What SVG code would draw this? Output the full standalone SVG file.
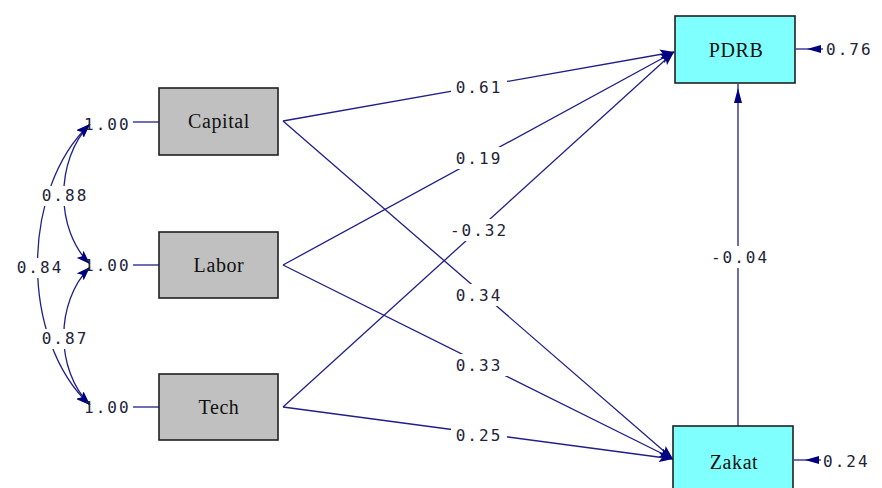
<svg xmlns="http://www.w3.org/2000/svg" width="882" height="488" viewBox="0 0 882 488">
<defs>
<marker id="ah" viewBox="0 0 14 10" refX="14" refY="5" markerWidth="14" markerHeight="10" markerUnits="userSpaceOnUse" orient="auto-start-reverse">
<path d="M0,0 L14,5 L0,10 L3,5 z" fill="#000080"/>
</marker>
<style>
.ln{fill:none;stroke:#1f1f8a;stroke-width:1.3}
.box{stroke:#202020;stroke-width:1.6}
.exo{fill:#c0c0c0}
.endo{fill:#80ffff}
.nt{font-family:"Liberation Serif","Times New Roman",serif;font-size:20px;fill:#111;text-anchor:middle;letter-spacing:0.6px}
.lb{font-family:"DejaVu Sans Mono","Liberation Mono",monospace;font-size:16px;fill:#222238;letter-spacing:2px}
.c{text-anchor:middle}
.bg{fill:#fff}
</style>
</defs>
<rect width="882" height="488" fill="#fff"/>
<g id="connectors">
<path class="ln" d="M283,121 L674,52" marker-end="url(#ah)"/>
<path class="ln" d="M283,265 L674,52" marker-end="url(#ah)"/>
<path class="ln" d="M283,407 L674,52" marker-end="url(#ah)"/>
<path class="ln" d="M283,121 L673,459" marker-end="url(#ah)"/>
<path class="ln" d="M283,265 L673,459" marker-end="url(#ah)"/>
<path class="ln" d="M283,407 L673,459" marker-end="url(#ah)"/>
<path class="ln" d="M738,426 L738,84"/>
<path d="M738,88 L734,103 L742,103 z" fill="#000080"/>
<path class="ln" d="M796,49 L823,49"/>
<path d="M807,49 L821,45 L821,53 z" fill="#000080"/>
<path class="ln" d="M794,460 L821,460"/>
<path d="M805,460 L819,456 L819,464 z" fill="#000080"/>
<path class="ln" d="M133,122 L159,122"/>
<path class="ln" d="M133,265 L159,265"/>
<path class="ln" d="M133,407 L159,407"/>
<path class="ln" d="M90,124 C55,160 55,230 90,264" marker-start="url(#ah)" marker-end="url(#ah)"/>
<path class="ln" d="M90,124 C20,190 20,340 90,405" marker-start="url(#ah)" marker-end="url(#ah)"/>
<path class="ln" d="M90,267 C55,302 55,370 90,405" marker-start="url(#ah)" marker-end="url(#ah)"/>
<rect class="bg" x="451" y="76" width="56" height="22"/>
<rect class="bg" x="451" y="147" width="56" height="22"/>
<rect class="bg" x="446" y="219" width="66" height="22"/>
<rect class="bg" x="451" y="284" width="56" height="22"/>
<rect class="bg" x="451" y="354" width="56" height="22"/>
<rect class="bg" x="451" y="424" width="56" height="22"/>
<rect class="bg" x="707" y="246" width="66" height="22"/>
<rect class="bg" x="39" y="186" width="52" height="20"/>
<rect class="bg" x="13" y="258" width="52" height="20"/>
<rect class="bg" x="39" y="329" width="52" height="20"/>
<text class="lb c" x="479" y="93">0.61</text>
<text class="lb c" x="479" y="164">0.19</text>
<text class="lb c" x="479" y="236">-0.32</text>
<text class="lb c" x="479" y="301">0.34</text>
<text class="lb c" x="479" y="371">0.33</text>
<text class="lb c" x="479" y="441">0.25</text>
<text class="lb c" x="740" y="263">-0.04</text>
<text class="lb c" x="65" y="201">0.88</text>
<text class="lb c" x="40" y="273">0.84</text>
<text class="lb c" x="65" y="344">0.87</text>
</g>
<g id="var-capital"><text class="lb" x="84" y="130">1.00</text></g>
<g id="var-labor"><text class="lb" x="84" y="271">1.00</text></g>
<g id="var-tech"><text class="lb" x="84" y="413">1.00</text></g>
<g id="Capital"><rect class="box exo" x="159" y="88" width="119" height="67"/><text class="nt" x="219" y="128">Capital</text></g>
<g id="Labor"><rect class="box exo" x="159" y="232" width="119" height="66"/><text class="nt" x="219" y="272">Labor</text></g>
<g id="Tech"><rect class="box exo" x="159" y="374" width="119" height="66"/><text class="nt" x="219" y="414">Tech</text></g>
<g id="PDRB"><rect class="box endo" x="675" y="16" width="120" height="67"/><text class="nt" x="736" y="57">PDRB</text></g>
<g id="Zakat"><rect class="box endo" x="673" y="426" width="120" height="70"/><text class="nt" x="734" y="469">Zakat</text></g>
<g id="err-PDRB"><text class="lb" x="826" y="55">0.76</text></g>
<g id="err-Zakat"><text class="lb" x="823" y="467">0.24</text></g>
</svg>
